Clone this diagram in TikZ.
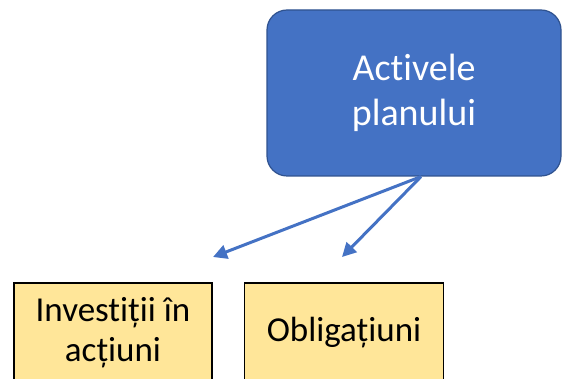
\documentclass[tikz,border=0pt]{standalone}
\usepackage{fontspec}
\setmainfont[Ligatures=NoCommon, RawFeature={-liga;-clig;-dlig}]{Carlito}
\usepackage{xcolor}
\usetikzlibrary{arrows.meta}
\usetikzlibrary{positioning}

\definecolor{planblue}{HTML}{4472C4}
\definecolor{planedge}{HTML}{2F528F}
\definecolor{assetfill}{HTML}{FFE699}

\begin{document}
\begin{tikzpicture}[
  x=1pt, y=-1pt,
  every node/.style={align=center},
  planbox/.style={draw=planedge, line width=1.2pt, fill=planblue, rounded corners=20pt,
    minimum width=294pt, minimum height=166pt, text=white,
    font=\fontsize{38}{45}\selectfont},
  assetbox/.style={draw=black, line width=1.5pt, fill=assetfill,
    minimum height=100pt, font=\fontsize{35}{40}\selectfont},
  link/.style={draw=planblue, line width=3pt, -{Triangle[length=14pt, width=14pt]}}
]
\useasboundingbox (0,0) rectangle (563,379);
\node[planbox] (plan) at (414,93) {Activele\\planului};
\node[assetbox, minimum width=198pt] (actiuni) at (113,333) {Investiții în\\acțiuni};
\node[assetbox, minimum width=199pt, right=31pt of actiuni] (oblig) {Obligațiuni};
% arrow ends stop short of the boxes
\coordinate (src) at ([xshift=7pt]plan.south);
\coordinate (endA) at (213,257);
\coordinate (endB) at (342,257);
\draw[link] (src) -- (endA);
\draw[link] (src) -- (endB);
\end{tikzpicture}
\end{document}
